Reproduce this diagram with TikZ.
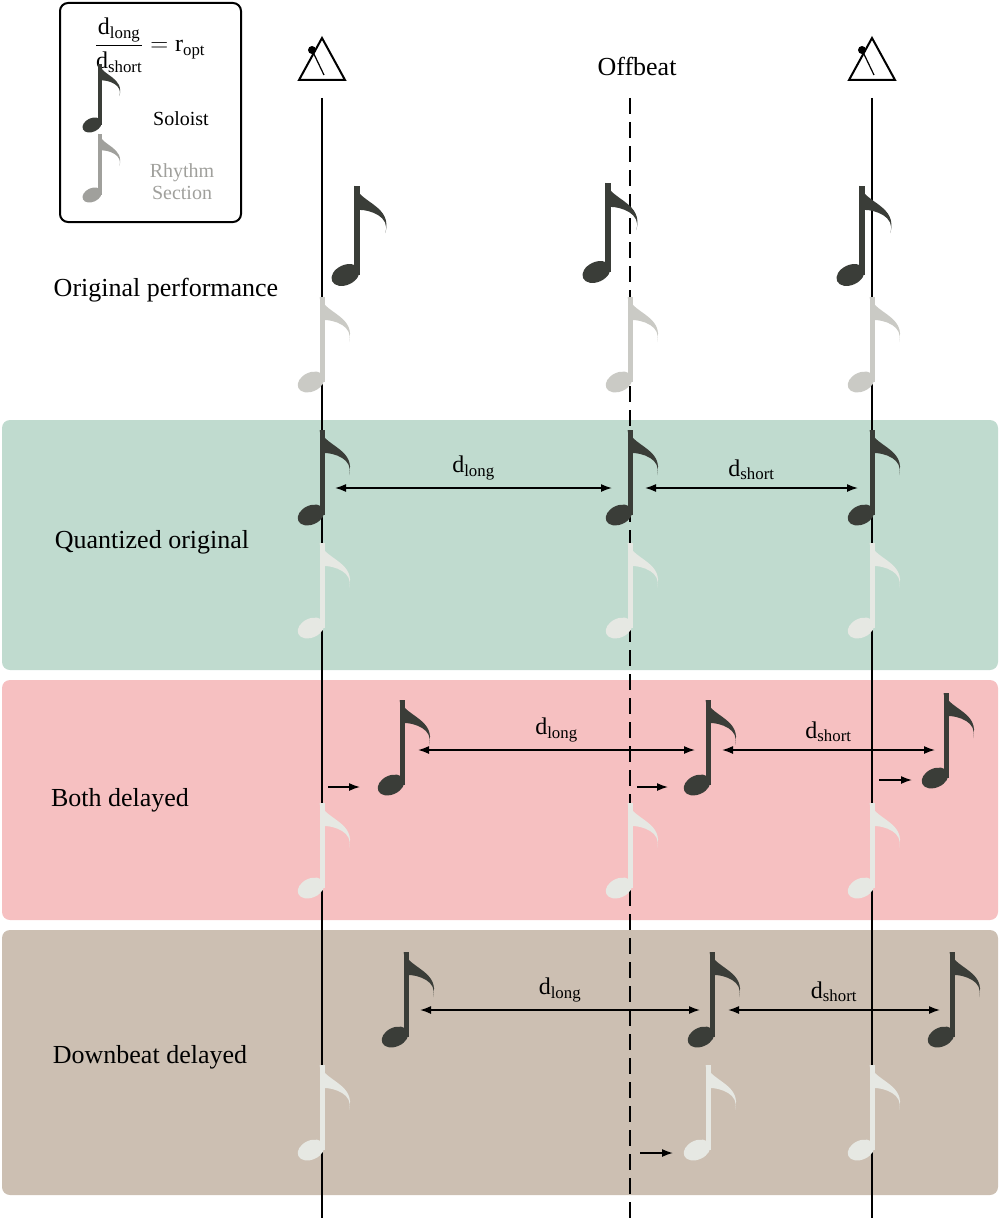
\documentclass[tikz,border=0pt]{standalone}
\usepackage{amsmath}
\usepackage{fontspec}
\setmainfont{Liberation Serif}
\usetikzlibrary{arrows.meta}
\definecolor{dk}{HTML}{3A3D38}
\definecolor{lt}{HTML}{CACAC5}
\definecolor{lb}{HTML}{E6E8E3}
\definecolor{lg}{HTML}{A0A09C}
\definecolor{bgreen}{HTML}{C0DBCF}
\definecolor{bpink}{HTML}{F6C0C1}
\definecolor{bbrown}{HTML}{CCBFB2}
\tikzset{
  note/.pic={
    \fill (-11,0) ellipse [x radius=14, y radius=9.5, rotate=25];
    \fill (-2.5,0) rectangle (2.5,-85);
    \fill (-2.5,-85) .. controls (4,-68) and (34,-66) .. (27,-40)
      .. controls (32,-56) and (12,-62) .. (2.5,-62) -- cycle;
  },
  lab/.style={font=\fontsize{26}{30}\selectfont},
  dl/.style={font=\fontsize{24}{28}\selectfont},
  dim/.style={{Latex[length=11,width=8]}-{Latex[length=11,width=8]}, line width=1.5},
  sh/.style={-{Latex[length=11,width=8]}, line width=1.5},
  band/.style={rounded corners=8},
}
\begin{document}
\begin{tikzpicture}[x=1pt,y=-1pt]
\useasboundingbox (0,0) rectangle (1000,1220);
\fill[band,bgreen] (2,420) rectangle (998,670);
\fill[band,bpink] (2,680) rectangle (998,920);
\fill[band,bbrown] (2,930) rectangle (998,1195);
% lines
\draw[line width=2.2] (322,98) -- (322,1218);
\draw[line width=2.2] (872,98) -- (872,1218);
\draw[line width=2.2,dash pattern=on 16 off 8] (630,98) -- (630,1218);
% metronomes
\foreach \x in {322,872}{
  \draw[line width=2] (\x,38) -- (\x+23,80) -- (\x-23,80) -- cycle;
  \draw[line width=1.2] (\x-10,50) -- (\x+2,75);
  \fill (\x-10,50) circle (4);
}
\node[lab] (off) at (637,66) {Offbeat};
% legend
\draw[line width=2, rounded corners=8] (60,3) rectangle (241,222);
\node (frac) at (150,45) {\fontsize{24}{28}\selectfont $\dfrac{\text{d}_{\text{long}}}{\text{d}_{\text{short}}} = \text{r}_{\text{opt}}$};
\pic[dk,scale=0.72] at (100,125) {note};
\node[font=\fontsize{20}{24}\selectfont] (sol) at (181,119) {Soloist};
\pic[lg,scale=0.72] at (100,195) {note};
\node[font=\fontsize{20}{24}\selectfont, text=lg, align=center, inner sep=0] (rs) at (182,182) {Rhythm\\[-2pt]Section};
% row labels
\node[lab] (l1) at (166,290) {Original performance};
\node[lab] (l2) at (152,542) {Quantized original};
\node[lab] (l3) at (120,800) {Both delayed};
\node[lab] (l4) at (150,1057) {Downbeat delayed};
% original
\pic[dk,scale=1.05] at (357,275) {note};
\pic[dk,scale=1.05] at (608,272) {note};
\pic[dk,scale=1.05] at (862,275) {note};
\foreach \x in {322,630,872} \pic[lt] at (\x,382) {note};
% quantized
\foreach \x in {322,630,872} {\pic[dk] at (\x,515) {note}; \pic[lb] at (\x,628) {note};}
\coordinate (q1) at (335,488); \coordinate (q2) at (612,488);
\coordinate (q3) at (645,488); \coordinate (q4) at (858,488);
\draw[dim] (q1) -- node[dl,above=4] {d$_{\text{long}}$} (q2);
\draw[dim] (q3) -- node[dl,above=4] {d$_{\text{short}}$} (q4);
% both delayed
\pic[dk] at (402,785) {note}; \pic[dk] at (708,785) {note}; \pic[dk] at (946,778) {note};
\foreach \x in {322,630,872} \pic[lb] at (\x,888) {note};
\coordinate (b1) at (418,750); \coordinate (b2) at (695,750);
\coordinate (b3) at (722,750); \coordinate (b4) at (935,750);
\draw[dim] (b1) -- node[dl,above=4] {d$_{\text{long}}$} (b2);
\draw[dim] (b3) -- node[dl,above=4] {d$_{\text{short}}$} (b4);
\coordinate (s1) at (328,787); \coordinate (s2) at (360,787);
\coordinate (s3) at (637,787); \coordinate (s4) at (668,787);
\coordinate (s5) at (879,780); \coordinate (s6) at (912,780);
\draw[sh] (s1) -- (s2); \draw[sh] (s3) -- (s4); \draw[sh] (s5) -- (s6);
% downbeat delayed
\pic[dk] at (406,1037) {note}; \pic[dk] at (712,1037) {note}; \pic[dk] at (952,1037) {note};
\pic[lb] at (322,1150) {note}; \pic[lb] at (708,1150) {note}; \pic[lb] at (872,1150) {note};
\coordinate (c1) at (420,1010); \coordinate (c2) at (700,1010);
\coordinate (c3) at (728,1010); \coordinate (c4) at (940,1010);
\draw[dim] (c1) -- node[dl,above=4] {d$_{\text{long}}$} (c2);
\draw[dim] (c3) -- node[dl,above=4] {d$_{\text{short}}$} (c4);
\coordinate (t1) at (640,1153); \coordinate (t2) at (673,1153);
\draw[sh] (t1) -- (t2);
\end{tikzpicture}
\end{document}
